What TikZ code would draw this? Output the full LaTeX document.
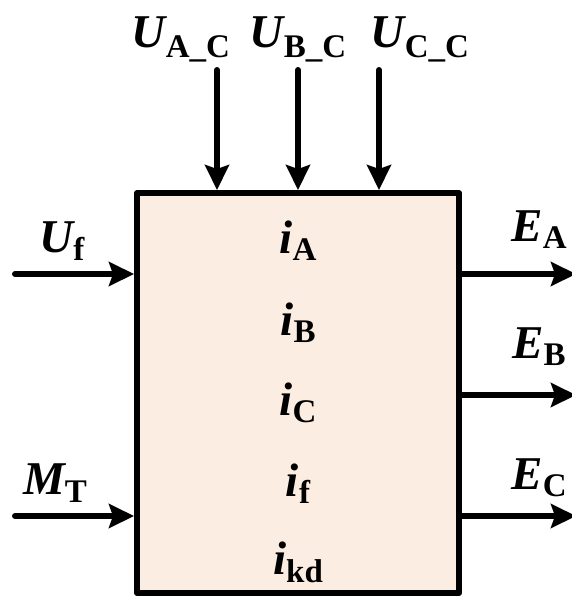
\documentclass[tikz,border=0pt]{standalone}
\usepackage{fontspec}
\setmainfont{Liberation Serif}
\usetikzlibrary{arrows.meta}
\definecolor{peach}{RGB}{252,237,226}
\newcommand\mainsz{\fontsize{47}{50}\selectfont}
\newcommand\subsz{\fontsize{33}{36}\selectfont}
\newcommand\lab[3]{{\mainsz\bfseries\itshape #1}\raisebox{-#3}{\subsz\bfseries #2}}
\begin{document}
\begin{tikzpicture}[x=1pt,y=-1pt,
  conn/.style={line width=6pt,line cap=round,-{Stealth[length=25pt,width=24pt,inset=4pt]}},
  lbl/.style={anchor=base,inner sep=0pt,outer sep=0pt}]
\useasboundingbox (0,0) rectangle (571,597);
\node[draw=black,fill=peach,line width=6pt,line join=round,minimum width=322pt,minimum height=400pt,inner sep=0pt] (box) at (298,393) {};
% inputs top
\coordinate (t1) at (217,70);
\coordinate (t2) at (298,70);
\coordinate (t3) at (379,70);
\draw[conn] (t1) -- (t1 |- box.north);
\draw[conn] (t2) -- (t2 |- box.north);
\draw[conn] (t3) -- (t3 |- box.north);
% inputs left
\coordinate (l1) at (15,274);
\coordinate (l2) at (15,516);
\draw[conn] (l1) -- (l1 -| box.west);
\draw[conn] (l2) -- (l2 -| box.west);
% outputs right
\coordinate (r1) at (576,274);
\coordinate (r2) at (576,395);
\coordinate (r3) at (576,516);
\draw[conn] (r1 -| box.east) -- (r1);
\draw[conn] (r2 -| box.east) -- (r2);
\draw[conn] (r3 -| box.east) -- (r3);
% labels
\node[lbl] (uac) at (181,47) {\lab{U}{A\_C}{10pt}};
\node[lbl] (ubc) at (298,47) {\lab{U}{B\_C}{10pt}};
\node[lbl] (ucc) at (420,47) {\lab{U}{C\_C}{10pt}};
\node[lbl] (uf) at (62,252) {\lab{U}{f}{8pt}};
\node[lbl] (mt) at (55,494) {\lab{M}{T}{8pt}};
\node[lbl] (ea) at (539,241) {\lab{E}{A}{7pt}};
\node[lbl] (eb) at (539,358) {\lab{E}{B}{7pt}};
\node[lbl] (ec) at (539,489) {\lab{E}{C}{7pt}};
\node[lbl] (ia) at (298,253) {\lab{i}{A}{7pt}};
\node[lbl] (ib) at (298,335) {\lab{i}{B}{7pt}};
\node[lbl] (ic) at (298,415) {\lab{i}{C}{7pt}};
\node[lbl] (if) at (298,496) {\lab{i}{f}{7pt}};
\node[lbl] (ikd) at (298,574) {\lab{i}{kd}{8pt}};
\end{tikzpicture}
\end{document}
